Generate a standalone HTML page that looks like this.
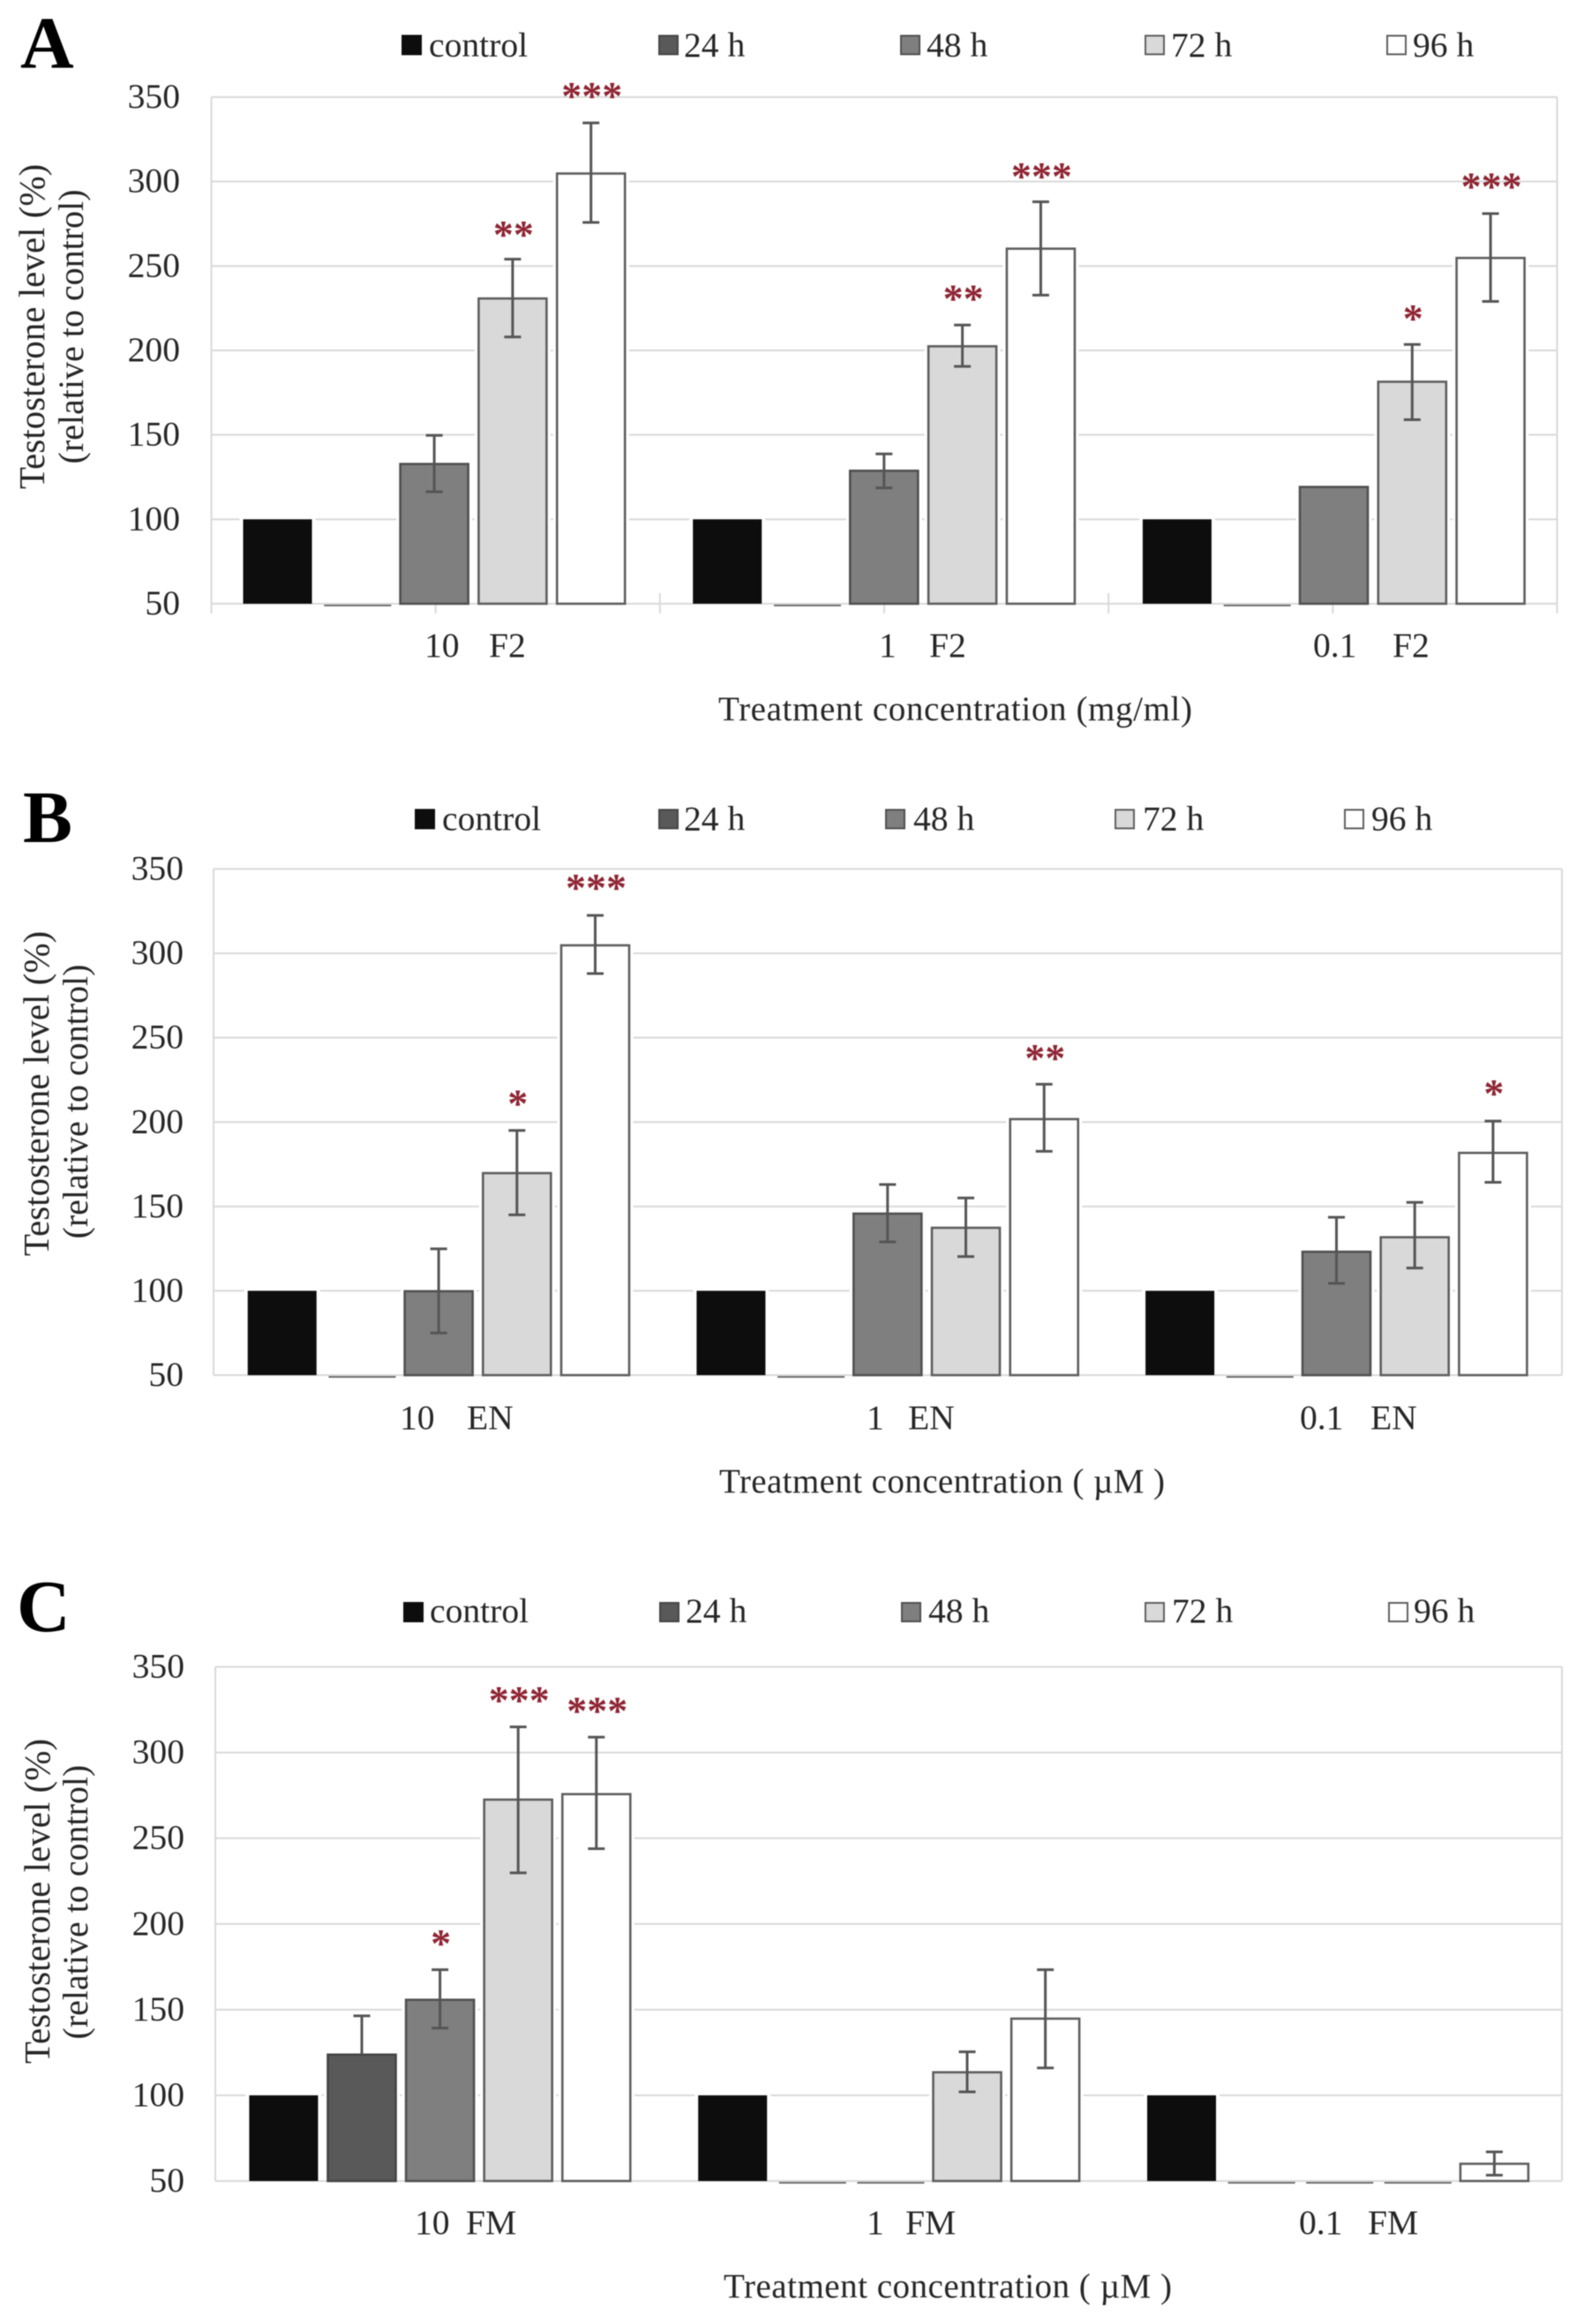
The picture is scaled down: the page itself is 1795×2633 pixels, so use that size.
<!DOCTYPE html>
<html lang="en">
<head>
<meta charset="utf-8">
<title>Testosterone level charts</title>
<style>
  html,body{margin:0;padding:0;background:#fff;}
  svg{display:block;filter:blur(0.5px);}
  text{font-family:"Liberation Serif","DejaVu Serif",serif;fill:#262626;}
</style>
</head>
<body>
<svg id="figure" xmlns="http://www.w3.org/2000/svg" width="1795" height="2633" viewBox="0 0 1795 2633"></svg>
<script>
const tickLabels = [50, 100, 150, 200, 250, 300, 350];
const seriesNames = ['control', '24 h', '48 h', '72 h', '96 h'];
const groupDoses = ['10', '1', '0.1'];

/* Panel A */
const aControl = [100, 100, 100];
const a24 = [50, 50, 50];
const a48 = [133, 129, 119.4];
const a72 = [231, 202.7, 181.7];
const a96 = [305, 260.5, 255];
const aLow48 = [116.3, 118.6, null];
const aHigh48 = [149.7, 138.7, null];
const aLow72 = [208, 190.5, 159];
const aHigh72 = [254, 215, 203.5];
const aLow96 = [275.8, 232.7, 229];
const aHigh96 = [334.7, 288, 281];
const aStars72 = ['**', '**', '*'];
const aStarLevel72 = [271.5, 233.8, 222];
const aStars96 = ['***', '***', '***'];
const aStarLevel96 = [353.7, 306, 300];

/* Panel B */
const bControl = [100, 100, 100];
const b24 = [50, 50, 50];
const b48 = [100, 146, 123.4];
const b72 = [170, 137.6, 132];
const b96 = [305, 202, 182];
const bLow48 = [75, 129, 104.4];
const bHigh48 = [124.9, 163, 143.6];
const bLow72 = [145, 120.3, 113.5];
const bHigh72 = [195, 155, 152.4];
const bLow96 = [288, 182.7, 164.3];
const bHigh96 = [322.5, 222.4, 200.6];
const bStars72 = ['*', '', ''];
const bStarLevel72 = [214, null, null];
const bStars96 = ['***', '**', '*'];
const bStarLevel96 = [341.8, 241, 220];

/* Panel C */
const cControl = [100, 100, 100];
const c24 = [124, 50, 50];
const c48 = [156, 50, 50];
const c72 = [272.8, 113.7, 50];
const c96 = [276, 145, 60.3];
const cLow24 = [null, null, null];
const cHigh24 = [146.4, null, null];
const cLow48 = [139.2, null, null];
const cHigh48 = [173.3, null, null];
const cLow72 = [229.8, 102, null];
const cHigh72 = [315, 125.4, null];
const cLow96 = [243.9, 116, 53.4];
const cHigh96 = [309, 173.3, 67];
const cStars48 = ['*', '', ''];
const cStarLevel48 = [191.7, null, null];
const cStars72 = ['***', '', ''];
const cStarLevel72 = [333.6, null, null];
const cStars96 = ['***', '', ''];
const cStarLevel96 = [327.3, null, null];

const NS = 'http://www.w3.org/2000/svg';
const svg = document.getElementById('figure');
const fills = ['#0d0d0d', '#595959', '#7f7f7f', '#d9d9d9', '#ffffff'];
const strokes = ['none', '#454545', '#505050', '#5e5e5e', '#5e5e5e'];

function make(tag, attrs, parent, txt) {
  const n = document.createElementNS(NS, tag);
  for (const k in attrs) n.setAttribute(k, attrs[k]);
  if (txt !== undefined) n.textContent = txt;
  parent.appendChild(n);
  return n;
}

const panels = [
  {
    id: 'a', letter: 'A', letterX: 23, letterY: 77,
    left: 239.5, right: 1764.5, top: 110, bottom: 684,
    firstBar: 275.5, barStep: 88.8, barWidth: 78, groupStep: 509.7,
    tickX: 204, showTicks: true,
    swatchY: 40.5, legendBase: 64,
    swatchX: [456, 747, 1021, 1298, 1572], legendTextX: [486, 775, 1050, 1327, 1601],
    agent: 'F2', labelBase: 744,
    doseX: [481, 996, 1488], agentX: [554, 1053, 1578],
    xTitle: 'Treatment concentration (mg/ml)', xTitleX: 814, xTitleBase: 816, xTitleLen: 537,
    y1: {x: 50, c: 370}, y2: {x: 94, c: 370},
    series: [
      {v: aControl},
      {v: a24},
      {v: a48, lo: aLow48, hi: aHigh48},
      {v: a72, lo: aLow72, hi: aHigh72, st: aStars72, at: aStarLevel72},
      {v: a96, lo: aLow96, hi: aHigh96, st: aStars96, at: aStarLevel96}
    ]
  },
  {
    id: 'b', letter: 'B', letterX: 26, letterY: 954,
    left: 242, right: 1770, top: 984.5, bottom: 1558,
    firstBar: 280.7, barStep: 88.7, barWidth: 78, groupStep: 508.7,
    tickX: 208, showTicks: false,
    swatchY: 917.5, legendBase: 940.5,
    swatchX: [471, 747, 1004, 1264, 1524], legendTextX: [501, 775, 1035, 1295, 1554],
    agent: 'EN', labelBase: 1619,
    doseX: [453, 982, 1473], agentX: [529, 1029, 1553],
    xTitle: 'Treatment concentration ( µM )', xTitleX: 815, xTitleBase: 1691, xTitleLen: 505,
    y1: {x: 55, c: 1239}, y2: {x: 99, c: 1248},
    series: [
      {v: bControl},
      {v: b24},
      {v: b48, lo: bLow48, hi: bHigh48},
      {v: b72, lo: bLow72, hi: bHigh72, st: bStars72, at: bStarLevel72},
      {v: b96, lo: bLow96, hi: bHigh96, st: bStars96, at: bStarLevel96}
    ]
  },
  {
    id: 'c', letter: 'C', letterX: 19, letterY: 1848,
    left: 244, right: 1770, top: 1888.5, bottom: 2471,
    firstBar: 282.4, barStep: 88.6, barWidth: 78, groupStep: 508.8,
    tickX: 209, showTicks: false,
    swatchY: 1816, legendBase: 1838,
    swatchX: [458, 748, 1022, 1298, 1574], legendTextX: [487, 777, 1052, 1328, 1602],
    agent: 'FM', labelBase: 2531,
    doseX: [470, 982, 1472], agentX: [528, 1026, 1550],
    xTitle: 'Treatment concentration ( µM )', xTitleX: 820, xTitleBase: 2603, xTitleLen: 508,
    y1: {x: 56, c: 2154}, y2: {x: 99, c: 2155},
    series: [
      {v: cControl},
      {v: c24, lo: cLow24, hi: cHigh24},
      {v: c48, lo: cLow48, hi: cHigh48, st: cStars48, at: cStarLevel48},
      {v: c72, lo: cLow72, hi: cHigh72, st: cStars72, at: cStarLevel72},
      {v: c96, lo: cLow96, hi: cHigh96, st: cStars96, at: cStarLevel96}
    ]
  }
];

panels.forEach(function (p) {
  const yMin = tickLabels[0];
  const yMax = tickLabels[tickLabels.length - 1];
  const yScale = function (v) { return p.bottom - (v - yMin) / (yMax - yMin) * (p.bottom - p.top); };
  const xScale = function (g, s) { return p.firstBar + g * p.groupStep + s * p.barStep; };

  const g = make('g', {}, svg);
  
  

  const letter = make('text', {x: p.letterX, y: p.letterY, 'font-size': 84, 'font-weight': 'bold', style: 'fill:#000'}, g, p.letter);
  
  

  /* legend */
  seriesNames.forEach(function (name, i) {
    const sw = make('rect', {x: p.swatchX[i], y: p.swatchY, width: 21, height: 21, fill: fills[i], stroke: strokes[i] === 'none' ? fills[i] : strokes[i], 'stroke-width': 2}, g);
    
    
    const lt = make('text', {x: p.legendTextX[i], y: p.legendBase, 'font-size': 39.6}, g, name);
    
    
  });

  /* gridlines + tick labels */
  tickLabels.forEach(function (t) {
    const gy = yScale(t);
    const gl = make('line', {x1: p.left, x2: p.right, y1: gy, y2: gy, stroke: '#d9d9d9', 'stroke-width': 2}, g);
    
    
    const tl = make('text', {x: p.tickX, y: gy + 12, 'font-size': 39.6, 'text-anchor': 'end'}, g, String(t));
    
    
  });

  /* plot side borders */
  const lb = make('line', {x1: p.left, x2: p.left, y1: p.top, y2: p.bottom, stroke: '#d9d9d9', 'stroke-width': 2}, g);
  
  
  const rb = make('line', {x1: p.right, x2: p.right, y1: p.top, y2: p.bottom, stroke: '#d9d9d9', 'stroke-width': 2}, g);
  
  

  /* x axis ticks */
  if (p.showTicks) {
    const w = (p.right - p.left) / 3;
    for (let i = 0; i <= 3; i++) {
      const tk = make('line', {x1: p.left + w * i, x2: p.left + w * i, y1: p.bottom - 12, y2: p.bottom + 11, stroke: '#d9d9d9', 'stroke-width': 2}, g);
      
      
    }
    for (let i = 0; i < 3; i++) {
      const mt = make('line', {x1: p.left + w * (i + 0.5), x2: p.left + w * (i + 0.5), y1: p.bottom - 8, y2: p.bottom + 11, stroke: '#d9d9d9', 'stroke-width': 2}, g);
      
      
    }
  }

  /* bars */
  p.series.forEach(function (s, si) {
    s.v.forEach(function (val, gi) {
      const bx = xScale(gi, si);
      const by = yScale(val);
      const cx = bx + p.barWidth / 2;
      if (val <= yMin) {
        const sl = make('line', {x1: bx + 3, x2: bx + p.barWidth + 1, y1: by + 2, y2: by + 2, stroke: '#707070', 'stroke-width': 2}, g);
        
        
      } else {
        const halo = make('rect', {x: bx - 4, y: by - 2, width: p.barWidth + 8, height: p.bottom - by + 1, fill: '#ffffff'}, g);
        
        
        const inset = si === 0 ? 0 : 0.5;
        const bar = make('rect', {x: bx + inset, y: by + inset, width: p.barWidth - 2 * inset, height: p.bottom - by - inset, fill: fills[si], stroke: strokes[si], 'stroke-width': si === 0 ? 0 : 2.6}, g);
        
        
      }
      const hi = s.hi ? s.hi[gi] : null;
      const lo = s.lo ? s.lo[gi] : null;
      if (hi !== null) {
        const yHi = yScale(hi);
        const yLo = lo !== null ? yScale(lo) : by;
        const stem = make('line', {x1: cx, x2: cx, y1: yHi, y2: yLo, stroke: '#555555', 'stroke-width': 3}, g);
        
        
        const capHi = make('line', {x1: cx - 9.5, x2: cx + 9.5, y1: yHi, y2: yHi, stroke: '#555555', 'stroke-width': 3}, g);
        
        
        if (lo !== null) {
          const capLo = make('line', {x1: cx - 9.5, x2: cx + 9.5, y1: yLo, y2: yLo, stroke: '#555555', 'stroke-width': 3}, g);
          
          
        }
      }
      if (s.st && s.st[gi]) {
        const star = make('text', {x: cx + 1, y: yScale(s.at[gi]) + 21, 'font-size': 46, 'font-weight': 'bold', 'text-anchor': 'middle', style: 'fill:#8f2433'}, g, s.st[gi]);
        
        
      }
    });
  });

  /* group labels */
  groupDoses.forEach(function (d, i) {
    const dl = make('text', {x: p.doseX[i], y: p.labelBase, 'font-size': 39.6}, g, d);
    
    
    const al = make('text', {x: p.agentX[i], y: p.labelBase, 'font-size': 39.6}, g, p.agent);
    
    
  });

  const xt = make('text', {x: p.xTitleX, y: p.xTitleBase, 'font-size': 39, textLength: p.xTitleLen}, g, p.xTitle);
  
  

  const yt1 = make('text', {transform: 'translate(' + p.y1.x + ',' + p.y1.c + ') rotate(-90)', 'font-size': 41, 'text-anchor': 'middle'}, g, 'Testosterone level (%)');
  
  
  const yt2 = make('text', {transform: 'translate(' + p.y2.x + ',' + p.y2.c + ') rotate(-90)', 'font-size': 40, 'text-anchor': 'middle'}, g, '(relative to control)');
  
  
});
</script>
</body>
</html>
